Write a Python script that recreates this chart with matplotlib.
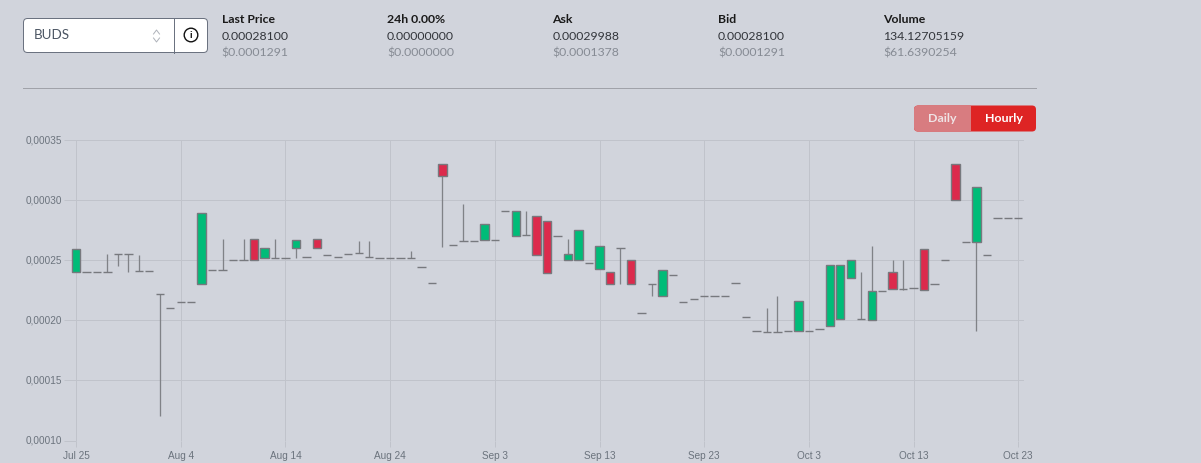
import matplotlib
matplotlib.use("Agg")
import matplotlib.pyplot as plt
from matplotlib.patches import FancyBboxPatch, Circle, Rectangle
from matplotlib.transforms import ScaledTranslation

W, H = 1201, 464
BG = "#d1d4dc"

# One candle per day, first one on Jul 25
opens = [
    .000240, .000240, .000240, .000240, .000255, .000255, .000241, .000241, .000222, .000210,
    .000215, .000215, .000230, .000242, .000242, .000250, .000250, .000268, .000252, .000252,
    .000252, .000260, .000253, .000268, .000254, .000253, .000255, .000256, .000253, .000252,
    .000252, .000252, .000252, .000244, .000231, .000330, .000263, .000266, .000266, .000267,
    .000267, .000291, .000270, .000271, .000287, .000283, .000270, .000250, .000250, .000248,
    .000243, .000240, .000260, .000250, .000206, .000230, .000220, .000238, .000215, .000218,
    .000220, .000220, .000220, .000231, .000203, .000191, .000190, .000190, .000191, .000191,
    .000191, .000193, .000195, .000201, .000235, .000201, .000200, .000224, .000240, .000226,
    .000227, .000259, .000230, .000250, .000330, .000265, .000265, .000254, .000285, .000285,
    .000285,
]
closes = [
    .000259, .000240, .000240, .000240, .000255, .000255, .000241, .000241, .000222, .000210,
    .000215, .000215, .000289, .000242, .000242, .000250, .000250, .000250, .000260, .000252,
    .000252, .000267, .000253, .000260, .000254, .000253, .000255, .000256, .000253, .000252,
    .000252, .000252, .000252, .000244, .000231, .000320, .000263, .000266, .000266, .000280,
    .000267, .000291, .000291, .000271, .000254, .000239, .000270, .000255, .000275, .000248,
    .000262, .000230, .000260, .000230, .000206, .000230, .000242, .000238, .000215, .000218,
    .000220, .000220, .000220, .000231, .000203, .000191, .000190, .000190, .000191, .000216,
    .000191, .000193, .000246, .000246, .000250, .000201, .000224, .000224, .000226, .000226,
    .000227, .000225, .000230, .000250, .000300, .000265, .000311, .000254, .000285, .000285,
    .000285,
]
highs = [
    .000259, .000240, .000240, .000255, .000255, .000255, .000254, .000241, .000222, .000210,
    .000215, .000215, .000289, .000242, .000268, .000250, .000268, .000268, .000260, .000268,
    .000252, .000267, .000253, .000268, .000254, .000253, .000255, .000266, .000266, .000252,
    .000252, .000252, .000258, .000244, .000231, .000330, .000263, .000297, .000266, .000280,
    .000267, .000291, .000291, .000291, .000287, .000283, .000270, .000268, .000275, .000248,
    .000262, .000240, .000260, .000250, .000206, .000230, .000242, .000238, .000215, .000218,
    .000220, .000220, .000220, .000231, .000203, .000191, .000210, .000220, .000191, .000216,
    .000191, .000193, .000246, .000246, .000250, .000240, .000262, .000224, .000250, .000250,
    .000227, .000259, .000230, .000250, .000330, .000265, .000311, .000254, .000285, .000285,
    .000285,
]
lows = [
    .000240, .000240, .000240, .000240, .000245, .000240, .000241, .000241, .000120, .000210,
    .000215, .000215, .000230, .000242, .000242, .000250, .000250, .000250, .000252, .000252,
    .000252, .000252, .000253, .000260, .000254, .000253, .000255, .000256, .000253, .000252,
    .000252, .000252, .000252, .000244, .000231, .000261, .000263, .000266, .000266, .000267,
    .000267, .000291, .000270, .000271, .000254, .000239, .000270, .000250, .000250, .000248,
    .000243, .000230, .000230, .000230, .000206, .000220, .000220, .000238, .000215, .000218,
    .000220, .000220, .000220, .000231, .000203, .000191, .000190, .000190, .000191, .000191,
    .000191, .000193, .000195, .000201, .000235, .000201, .000200, .000224, .000226, .000225,
    .000227, .000225, .000230, .000250, .000300, .000265, .000191, .000254, .000285, .000285,
    .000285,
]

x_labels = ["Jul 25", "Aug 4", "Aug 14", "Aug 24", "Sep 3", "Sep 13", "Sep 23", "Oct 3", "Oct 13", "Oct 23"]
y_values = [0.00010, 0.00015, 0.00020, 0.00025, 0.00030, 0.00035]

stat_titles = ["Last Price", "24h 0.00%", "Ask", "Bid", "Volume"]
stat_values = ["0.00028100", "0.00000000", "0.00029988", "0.00028100", "134.12705159"]
stat_usd = ["$0.0001291", "$0.0000000", "$0.0001378", "$0.0001291", "$61.6390254"]

UI_FONT = ["Lato", "Noto Sans", "DejaVu Sans"]
AX_FONT = ["Liberation Sans", "DejaVu Sans"]
GREEN, RED = "#00bc78", "#dc2a4c"
GRID = "#c0c3cb"


def px(v):
    """Pixels to points at dpi 100."""
    return v * 72 / 100


fig = plt.figure(figsize=(W / 100, H / 100), dpi=100, facecolor=BG)

# ---------- chart ----------
ax = fig.add_axes([76 / W, 1 - 441.5 / H, (1024 - 76) / W, (441.5 - 141) / H], facecolor="none")
ax.set_xlim(0, (1024 - 76) / 10.47)
ax.set_ylim(0.00010, 0.00035)
for s in ax.spines.values():
    s.set_visible(False)
ax.set_axisbelow(True)
ax.grid(True, color=GRID, lw=px(1))
x_ticks = [i * 10 for i in range(len(x_labels))]
ax.set_xticks(x_ticks, x_labels)
ax.set_yticks(y_values, [f"{v:.5f}".replace(".", ",") for v in y_values])
ax.tick_params(axis="x", length=px(6), width=px(1), color=GRID, pad=px(4), labelsize=7.2, labelcolor="#6b737d")
ax.tick_params(axis="y", length=px(12), width=px(1), color=GRID, pad=px(2), labelsize=7.2, labelcolor="#6b737d")
for t in ax.get_xticklabels() + ax.get_yticklabels():
    t.set_fontfamily(AX_FONT)
lift = ScaledTranslation(0, 1.5 / 100, fig.dpi_scale_trans)
for t in ax.get_yticklabels():
    t.set_transform(t.get_transform() + lift)

days = list(range(len(opens)))
ax.vlines(days, lows, highs, color="#808287", lw=px(1.3), zorder=3, clip_on=False)
for d, o, c in zip(days, opens, closes):
    col = GREEN if c >= o else RED
    ax.bar(d, abs(c - o), bottom=min(o, c), width=0.8, facecolor=col,
           edgecolor="#77797e", linewidth=px(1.4), zorder=4, clip_on=False)

# ---------- header ----------
ui = fig.add_axes([0, 0, 1, 1], facecolor="none")
ui.set_xlim(0, W)
ui.set_ylim(H, 0)
ui.axis("off")

ui.add_patch(FancyBboxPatch((23.5, 19.5), 184, 34, boxstyle="round,pad=0,rounding_size=4",
                            fc="white", ec="#6b7280", lw=px(1)))
ui.plot([173.5, 173.5], [19.5, 53.5], color="#6b7280", lw=px(1))
ui.text(34, 35, "BUDS", fontsize=9.6, color="#4b5563", family=UI_FONT, va="center")
ui.plot([134.5 + 19, 137.5 + 19, 140.5 + 19], [35, 31, 35], color="#b0b4bb", lw=px(1))
ui.plot([134.5 + 19, 137.5 + 19, 140.5 + 19], [39, 43, 39], color="#b0b4bb", lw=px(1))
ui.add_patch(Circle((191, 36), 6.8, fc="white", ec="#111111", lw=px(1.4)))
ui.text(191, 36, "i", fontsize=7.5, fontweight="bold", color="#111111", ha="center", va="center", family=UI_FONT)

stat_x = [221.5, 387, 552.5, 718, 883.5]
for xp, a, b, c in zip(stat_x, stat_titles, stat_values, stat_usd):
    ui.text(xp, 19.5, a, fontsize=8.8, fontweight="bold", color="#1a1a1a", family=UI_FONT, va="center")
    ui.text(xp, 36, b, fontsize=8.8, color="#33363c", family=UI_FONT, va="center")
    ui.text(xp, 53, c, fontsize=8.8, color="#868b94", family=UI_FONT, va="center")

ui.plot([23, 1036], [88.5, 88.5], color="#a0a2a9", lw=px(1))

ui.add_patch(FancyBboxPatch((914, 106.5), 122, 26, boxstyle="round,pad=0,rounding_size=4",
                            fc="#de2424", ec="none"))
left_clip = Rectangle((914, 106.5), 57, 26, transform=ui.transData)
daily = FancyBboxPatch((914, 106.5), 122, 26, boxstyle="round,pad=0,rounding_size=4",
                       fc="#d87c80", ec="none")
ui.add_patch(daily)
daily.set_clip_path(left_clip)
ui.text(942.5, 118.5, "Daily", fontsize=8.9, fontweight="bold", color="#efe3e5", ha="center", va="center", family=UI_FONT)
ui.text(1003.5, 118.5, "Hourly", fontsize=8.9, fontweight="bold", color="white", ha="center", va="center", family=UI_FONT)

fig.savefig("out.png", dpi=100, facecolor=BG)
